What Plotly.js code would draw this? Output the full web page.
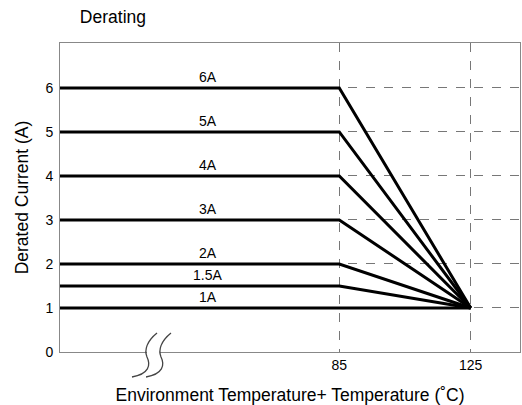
<!DOCTYPE html>
<html>
<head>
<meta charset="utf-8">
<script src="https://cdn.plot.ly/plotly-3.0.1.min.js"></script>
<style>html,body{margin:0;padding:0;background:#fff;}#chart{width:522px;height:405px;}</style>
</head>
<body>
<div id="chart"></div>
<script>
// Data
const ratings = ["6A", "5A", "4A", "3A", "2A", "1.5A", "1A"];
const ratedCurrent = [6, 5, 4, 3, 2, 1.5, 1];
const kneeTemp = 85;
const maxTemp = 125;
const startTemp = 0;
const endCurrent = 1;
const xTickVals = [85, 125];
const yTickVals = [0, 1, 2, 3, 4, 5, 6];
const labelX = 45;

const traces = ratedCurrent.map((v, i) => {
  const xs = v === endCurrent ? [startTemp, maxTemp] : [startTemp, kneeTemp, maxTemp];
  const ys = v === endCurrent ? [v, v] : [v, v, endCurrent];
  return {
    x: xs, y: ys, type: 'scatter', mode: 'lines', name: ratings[i],
    line: {color: '#000', width: 3}, hoverinfo: 'skip', showlegend: false
  };
});

const annotations = ratedCurrent.map((v, i) => ({
  x: labelX, y: v, xref: 'x', yref: 'y', text: ratings[i], showarrow: false,
  yanchor: 'bottom', yshift: 1, font: {family: 'Liberation Sans, Arial, sans-serif', size: 14, color: '#000'}
}));

// plot area geometry in pixels (for break-mark decoration)
const L = 60, R = 520, T = 43, B = 352;
const px = x => (x - L) / (R - L);
const py = y => (B - y) / (B - T);
function squiggle(dx) {
  const p = (x, y) => px(x + dx).toFixed(4) + ',' + py(y).toFixed(4);
  return 'M' + p(157, 333) + ' C' + p(147, 341) + ' ' + p(144, 350) + ' ' + p(147, 357) +
         ' C' + p(151, 365) + ' ' + p(149, 374) + ' ' + p(132, 377);
}
const shapes = [
  {type: 'rect', xref: 'paper', yref: 'paper', x0: px(147), x1: px(160), y0: py(354), y1: py(350),
   fillcolor: '#fff', line: {width: 0}, layer: 'above'},
  {type: 'path', xref: 'paper', yref: 'paper', path: squiggle(0), line: {color: '#444', width: 1.3}},
  {type: 'path', xref: 'paper', yref: 'paper', path: squiggle(14), line: {color: '#444', width: 1.3}}
];

const font = {family: 'Liberation Sans, Arial, sans-serif', color: '#000'};

const layout = {
  width: 522, height: 405,
  margin: {l: L, r: 522 - R, t: T, b: 405 - B},
  paper_bgcolor: '#fff', plot_bgcolor: '#fff',
  font: font,
  title: {text: 'Derating', x: 0.153, xanchor: 'left', y: 0.958, yanchor: 'middle',
          font: {family: font.family, size: 17.5, color: '#000'}},
  xaxis: {
    range: [0, 140], tickvals: xTickVals, ticktext: xTickVals.map(String),
    showgrid: true, gridcolor: '#777', griddash: 'dash', gridwidth: 1,
    zeroline: false, showline: true, linecolor: '#888', linewidth: 1, mirror: true,
    ticks: '', tickfont: {family: font.family, size: 14, color: '#000'},
    title: {text: 'Environment Temperature+ Temperature (˚C)', standoff: 16,
            font: {family: font.family, size: 17.5, color: '#000'}}
  },
  yaxis: {
    range: [0, 7.02], tickvals: yTickVals,
    showgrid: true, gridcolor: '#777', griddash: 'dash', gridwidth: 1,
    zeroline: false, showline: true, linecolor: '#888', linewidth: 1, mirror: true,
    ticks: '', ticklabelstandoff: 3, tickfont: {family: font.family, size: 14, color: '#000'},
    title: {text: 'Derated Current (A)', standoff: 12,
            font: {family: font.family, size: 17.5, color: '#000'}}
  },
  annotations: annotations,
  shapes: shapes
};

Plotly.newPlot('chart', traces, layout, {displayModeBar: false, staticPlot: true});
</script>
</body>
</html>
